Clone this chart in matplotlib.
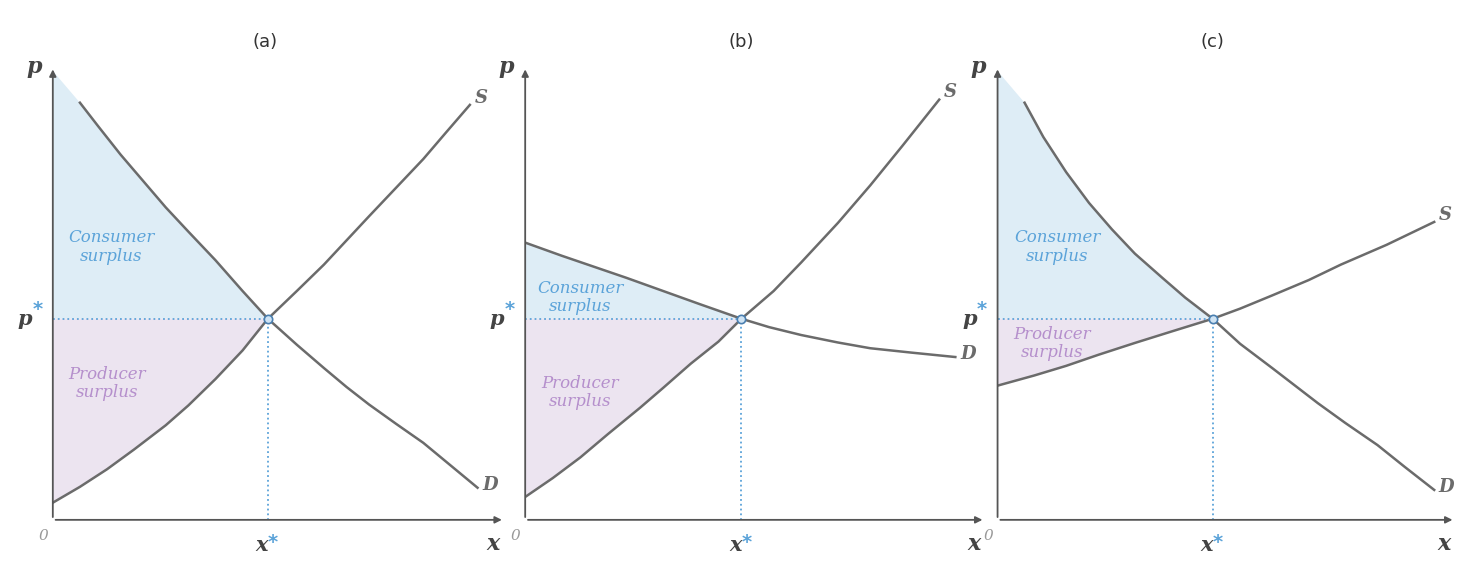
import matplotlib.pyplot as plt
import numpy as np

# curves, (quantity, price) in 0..10 units
titles = ["(a)", "(b)", "(c)"]
eq_x = [4.76, 4.7, 4.7]
eq_p = [4.57, 4.57, 4.57]

demand_x = [[0.6, 1.0, 1.5, 2.0, 2.5, 3.0, 3.6, 4.2, 4.76, 5.4, 6.0, 6.5, 7.0, 7.6, 8.2, 8.8, 9.4],
            [0.0, 0.8, 1.5, 2.2, 3.0, 3.8, 4.7, 5.3, 6.0, 6.8, 7.5, 8.4, 9.35],
            [0.59, 1.0, 1.5, 2.0, 2.5, 3.0, 3.6, 4.1, 4.7, 5.3, 6.0, 6.5, 7.0, 7.6, 8.3, 8.9, 9.54]]
demand_p = [[9.48, 8.95, 8.3, 7.7, 7.1, 6.55, 5.9, 5.2, 4.57, 3.98, 3.45, 3.02, 2.62, 2.18, 1.75, 1.24, 0.73],
            [6.3, 6.0, 5.75, 5.5, 5.2, 4.9, 4.57, 4.38, 4.2, 4.03, 3.9, 3.8, 3.7],
            [9.48, 8.7, 7.9, 7.2, 6.6, 6.05, 5.5, 5.05, 4.57, 4.0, 3.45, 3.05, 2.65, 2.2, 1.7, 1.2, 0.68]]
supply_x = [[0.0, 0.6, 1.2, 1.8, 2.5, 3.0, 3.6, 4.2, 4.76, 5.4, 6.0, 6.5, 7.0, 7.6, 8.2, 8.7, 9.23],
            [0.0, 0.6, 1.2, 1.8, 2.5, 3.0, 3.6, 4.2, 4.7, 5.4, 6.0, 6.8, 7.5, 8.2, 9.0],
            [0.0, 0.8, 1.5, 2.2, 3.0, 3.8, 4.7, 5.3, 6.0, 6.8, 7.5, 8.5, 9.54]]
supply_p = [[0.39, 0.75, 1.15, 1.6, 2.15, 2.6, 3.2, 3.85, 4.57, 5.2, 5.8, 6.35, 6.9, 7.55, 8.2, 8.8, 9.43],
            [0.52, 0.95, 1.42, 1.95, 2.55, 3.0, 3.55, 4.05, 4.57, 5.2, 5.85, 6.75, 7.6, 8.5, 9.55],
            [3.05, 3.28, 3.5, 3.75, 4.02, 4.28, 4.57, 4.8, 5.1, 5.45, 5.8, 6.25, 6.77]]
cs_text = [(1.3, 6.2), (1.2, 5.05), (1.3, 6.2)]
ps_text = [(1.2, 3.1), (1.2, 2.9), (1.2, 4.0)]

fig = plt.figure(figsize=(14.67, 5.62), dpi=100)
lefts = [0.036, 0.358, 0.680]
widths = [0.308, 0.3136, 0.312]

line_c = "#6b6b6b"
blue = "#5ba3d9"
purple = "#b58fcc"
serif = {"family": "DejaVu Serif", "style": "italic", "weight": "bold"}

for i in range(3):
    ax = fig.add_axes([lefts[i], 0.075, widths[i], 0.783])
    ax.set_xlim(0, 10)
    ax.set_ylim(0, 10)
    ax.axis("off")
    dx, dp = np.array(demand_x[i]), np.array(demand_p[i])
    sx, sp = np.array(supply_x[i]), np.array(supply_p[i])
    xe, pe = eq_x[i], eq_p[i]

    # consumer surplus: between demand curve and p*, up to the axis top
    m = dx <= xe
    top = 10.2 if dx[0] > 0 else dp[0]
    cx = np.concatenate([[0], dx[m], [0]])
    cy = np.concatenate([[top], dp[m], [pe]])
    ax.fill(cx, cy, color="#deedf6", lw=0, clip_on=False)
    ms = sx <= xe
    px = np.concatenate([[0], sx[ms], [0]])
    py = np.concatenate([[sp[0]], sp[ms], [pe]])
    ax.fill(px, py, color="#ece4f0", lw=0)

    ax.plot(dx, dp, color=line_c, lw=1.8)
    ax.plot(sx, sp, color=line_c, lw=1.8)
    ax.plot([0, xe], [pe, pe], color=blue, lw=1.3, ls=":")
    ax.plot([xe, xe], [0, pe], color=blue, lw=1.3, ls=":")
    ax.plot(xe, pe, "o", ms=6, mfc="#cfe3f3", mec="#4a7fb0", mew=1.2)

    ax.annotate("", xy=(10.0, 0), xytext=(0, 0),
                arrowprops=dict(arrowstyle="-|>", color="#555", lw=1.3))
    ax.annotate("", xy=(0, 10.3), xytext=(0, 0),
                arrowprops=dict(arrowstyle="-|>", color="#555", lw=1.3),
                annotation_clip=False)

    ax.text(sx[-1] + 0.1, sp[-1] + 0.05, "S", color=line_c, fontsize=13, **serif)
    ax.text(dx[-1] + 0.1, dp[-1] - 0.05, "D", color=line_c, fontsize=13, **serif)
    ax.text(-0.25, 10.15, "p", color="#444", fontsize=16, ha="right", **serif)
    ax.text(9.9, -0.3, "x", color="#444", fontsize=16, ha="right", va="top", **serif)
    ax.text(-0.1, -0.2, "0", color="#999", fontsize=11, ha="right", va="top",
            family="DejaVu Serif", style="italic")
    ax.text(-0.45, pe, "p", color="#444", fontsize=15, ha="right", va="center", **serif)
    ax.text(-0.45, pe + 0.2, "*", color=blue, fontsize=14, ha="left", va="center",
            fontweight="bold")
    ax.text(xe, -0.35, "x", color="#444", fontsize=15, ha="right", va="top", **serif)
    ax.text(xe, -0.3, "*", color=blue, fontsize=14, ha="left", va="top", fontweight="bold")

    ax.text(cs_text[i][0], cs_text[i][1], "Consumer\nsurplus", color=blue,
            fontsize=12, ha="center", va="center", linespacing=1.1,
            family="DejaVu Serif", style="italic")
    ax.text(ps_text[i][0], ps_text[i][1], "Producer\nsurplus", color=purple,
            fontsize=12, ha="center", va="center", linespacing=1.1,
            family="DejaVu Serif", style="italic")

    fig.text(lefts[i] + widths[i] * 0.47, 0.925, titles[i], fontsize=13,
             ha="center", va="center", color="#333")

fig.savefig("out.png", dpi=100)
